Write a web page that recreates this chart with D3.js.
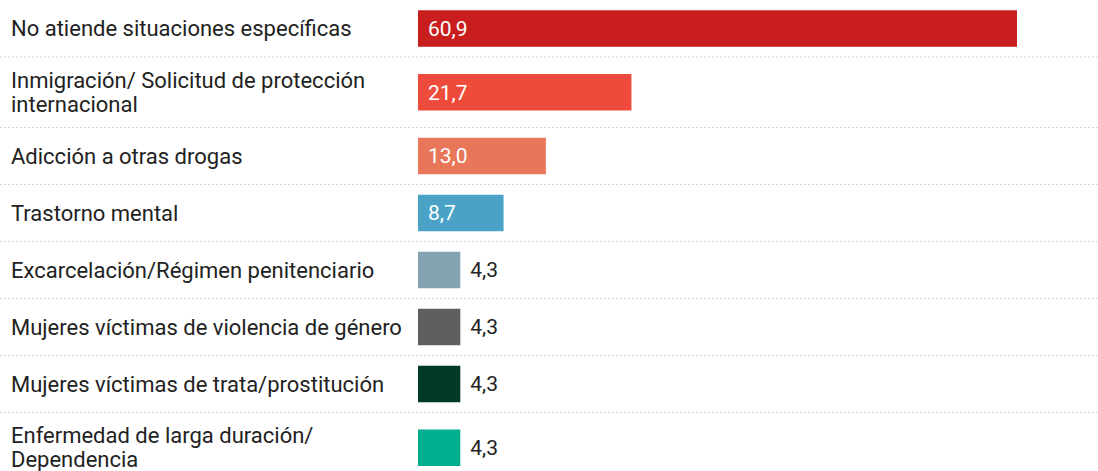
<!DOCTYPE html>
<html>
<head>
<meta charset="utf-8">
<script src="https://cdn.jsdelivr.net/npm/d3@7"></script>
<style>
  body { margin: 0; background: #fff; }
  svg { display: block; font-family: Roboto, "Noto Sans", sans-serif; }
</style>
</head>
<body>
<div id="chart"></div>
<script>
// data
const categories = [
    "No atiende situaciones específicas",
    "Inmigración/ Solicitud de protección internacional",
    "Adicción a otras drogas",
    "Trastorno mental",
    "Excarcelación/Régimen penitenciario",
    "Mujeres víctimas de violencia de género",
    "Mujeres víctimas de trata/prostitución",
    "Enfermedad de larga duración/ Dependencia"
];
const values = [60.9, 21.7, 13.0, 8.7, 4.3, 4.3, 4.3, 4.3];
const barColors = ["#c81e1e", "#ef4b3d", "#e8775a", "#4aa3c7", "#84a3b3", "#5f5f5f", "#003a25", "#00ae90"];

const width = 1098, height = 471;
const labelX = 11, labelMaxW = 398;
const barLeft = 418, barRight = 1017;
const barH = 36.5, lineH = 24;
const labelSize = 22, valueSize = 21;

const svg = d3.select("#chart").append("svg")
    .attr("width", width)
    .attr("height", height);

const x = d3.scaleLinear()
    .domain([0, d3.max(values)])
    .range([barLeft, barRight]);

const fmt = v => d3.format(".1f")(v).replace(".", ",");

// wrap label text into lines
function wrapLines(text) {
    let probe = svg.append("text").attr("font-size", labelSize);
    let words = text.split(" "), lines = [], cur = "";
    words.forEach(w => {
        let test = cur ? cur + " " + w : w;
        probe.text(test);
        if (probe.node().getComputedTextLength() > labelMaxW && cur) {
            lines.push(cur);
            cur = w;
        } else {
            cur = test;
        }
    });
    lines.push(cur);
    probe.remove();
    return lines;
}

// rows with variable height
let y0 = 0;
const rows = categories.map((c, i) => {
    let lines = wrapLines(c);
    let h = lines.length > 1 ? 70.5 : 57;
    let r = {cat: c, value: values[i], color: barColors[i], lines: lines, top: y0, h: h};
    y0 += h;
    return r;
});

const row = svg.selectAll("g.row")
    .data(rows)
    .enter().append("g")
    .attr("class", "row")
    .attr("transform", d => "translate(0," + d.top + ")");

// separators
row.filter((d, i) => i < rows.length - 1)
    .append("line")
    .attr("x1", 0)
    .attr("x2", width)
    .attr("y1", d => d.h)
    .attr("y2", d => d.h)
    .attr("stroke", "#d9d9d9")
    .attr("stroke-width", 1)
    .attr("stroke-dasharray", "2,2");

// category labels
row.append("text")
    .attr("font-size", labelSize)
    .attr("fill", "#222")
    .each(function(d) {
        let t = d3.select(this);
        let startY = d.h / 2 - (d.lines.length - 1) * lineH / 2;
        d.lines.forEach((l, j) => {
            t.append("tspan")
                .attr("x", labelX)
                .attr("y", startY + j * lineH)
                .attr("dy", "0.35em")
                .text(l);
        });
    });

// bars
row.append("rect")
    .attr("x", x(0))
    .attr("y", d => d.h / 2 - barH / 2)
    .attr("width", d => x(d.value) - x(0))
    .attr("height", barH)
    .attr("fill", d => d.color);

// value labels
row.append("text")
    .attr("font-size", valueSize)
    .attr("dy", "0.35em")
    .attr("y", d => d.h / 2)
    .attr("x", d => (x(d.value) - x(0) > 70) ? x(0) + 10 : x(d.value) + 10)
    .attr("fill", d => (x(d.value) - x(0) > 70) ? "#fff" : "#222")
    .text(d => fmt(d.value));
</script>
</body>
</html>
